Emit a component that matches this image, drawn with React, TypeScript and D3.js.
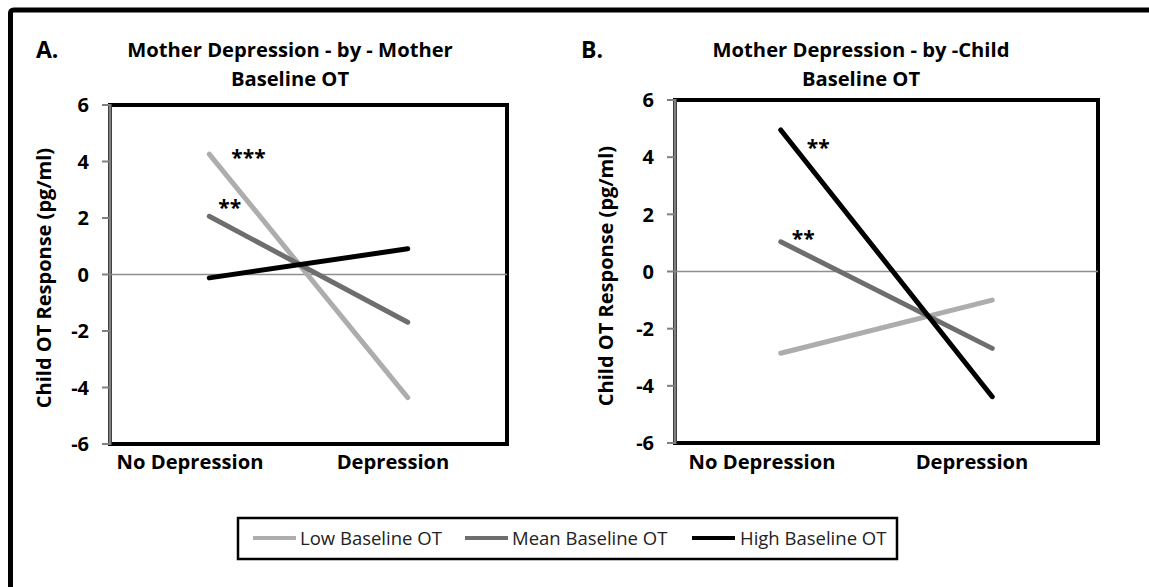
import React from "react";
import * as d3 from "d3";

const categories = ["No Depression", "Depression"];
const seriesNames = ["Low Baseline OT", "Mean Baseline OT", "High Baseline OT"];
const seriesColors = ["#adadad", "#6e6e6e", "#000000"];
const panelALow = [4.26, -4.36];
const panelAMean = [2.06, -1.69];
const panelAHigh = [-0.12, 0.91];
const panelBLow = [-2.86, -1.0];
const panelBMean = [1.04, -2.69];
const panelBHigh = [4.95, -4.38];
const yTicks = [6, 4, 2, 0, -2, -4, -6];

type Star = { text: string; series: number; dx: number; dy: number };

const panels = [
  {
    letter: "A.",
    title1: "Mother Depression - by - Mother",
    title2: "Baseline OT",
    left: 110, right: 507, top: 105, bottom: 444,
    letterX: 36, titleCx: 290, yTitleX: 44, yTitleCy: 278,
    series: [panelALow, panelAMean, panelAHigh],
    stars: [
      { text: "***", series: 0, dx: 22, dy: -4 },
      { text: "**", series: 1, dx: 9, dy: -16 },
    ] as Star[],
    catCx: [190, 393],
  },
  {
    letter: "B.",
    title1: "Mother Depression - by -Child",
    title2: "Baseline OT",
    left: 675, right: 1098, top: 100, bottom: 443,
    letterX: 581, titleCx: 861, yTitleX: 606, yTitleCy: 276,
    series: [panelBLow, panelBMean, panelBHigh],
    stars: [
      { text: "**", series: 2, dx: 26, dy: 10 },
      { text: "**", series: 1, dx: 11, dy: -11 },
    ] as Star[],
    catCx: [762, 972],
  },
];

const FONT = "'Open Sans', 'DejaVu Sans', sans-serif";

function Panel({ p }: { p: (typeof panels)[number] }) {
  const x = d3.scaleBand<string>().domain(categories).range([p.left, p.right]);
  const y = d3.scaleLinear().domain([-6, 6]).range([p.bottom, p.top]);
  const cx = (c: string) => (x(c) as number) + x.bandwidth() / 2;
  const line = d3
    .line<number>()
    .x((_, i) => cx(categories[i]))
    .y((d) => y(d));
  return (
    <g>
      <text x={p.letterX} y={58} fontFamily={FONT} fontWeight={700} fontSize={23}>
        {p.letter}
      </text>
      <text x={p.titleCx} y={57} textAnchor="middle" fontFamily={FONT} fontWeight={700} fontSize={20.2}>
        {p.title1}
      </text>
      <text x={p.titleCx} y={86} textAnchor="middle" fontFamily={FONT} fontWeight={700} fontSize={20.2}>
        {p.title2}
      </text>
      <rect x={p.left} y={p.top} width={p.right - p.left} height={p.bottom - p.top}
        fill="none" stroke="#000" strokeWidth={4} />
      <line x1={p.left} x2={p.right} y1={y(0)} y2={y(0)} stroke="#8f8f8f" strokeWidth={1.5} />
      <line x1={p.left} x2={p.left} y1={p.top - 1} y2={p.bottom + 1} stroke="#808080" strokeWidth={3} />
      {yTicks.map((t) => (
        <g key={t}>
          <line x1={p.left - 8} x2={p.left} y1={y(t)} y2={y(t)} stroke="#808080" strokeWidth={2} />
          <text x={p.left - 21} y={y(t)} dy="0.36em" textAnchor="end" fontFamily={FONT}
            fontWeight={700} fontSize={20}>
            {t}
          </text>
        </g>
      ))}
      <text transform={`translate(${p.yTitleX},${p.yTitleCy}) rotate(-90)`}
        dy="0.36em" textAnchor="middle" fontFamily={FONT} fontWeight={700} fontSize={20}>
        Child OT Response (pg/ml)
      </text>
      {categories.map((c, i) => (
        <text key={c} x={p.catCx[i]} y={469} textAnchor="middle" fontFamily={FONT}
          fontWeight={700} fontSize={20.2}>
          {c}
        </text>
      ))}
      {p.series.map((s, i) => (
        <path key={i} d={line(s) as string} fill="none" stroke={seriesColors[i]}
          strokeWidth={5} strokeLinecap="round" />
      ))}
      {p.stars.map((st, i) => (
        <text key={i} x={cx(categories[0]) + st.dx} y={y(p.series[st.series][0]) + st.dy + 15}
          fontFamily={FONT} fontWeight={700} fontSize={21}>
          {st.text}
        </text>
      ))}
    </g>
  );
}

export default function App() {
  const legendItems = [
    { lx: 253, tx: 300 },
    { lx: 465, tx: 512 },
    { lx: 692, tx: 740 },
  ];
  return (
    <svg width={1149} height={587} style={{ position: "absolute", left: 0, top: 0, background: "#fff" }}>
      <rect x={0} y={0} width={1149} height={587} fill="#fff" />
      <rect x={10.5} y={10} width={1300} height={800} fill="none" stroke="#000" strokeWidth={5} rx={3} />
      {panels.map((p) => (
        <Panel key={p.letter} p={p} />
      ))}
      <rect x={238} y={518} width={659} height={41} fill="#fff" stroke="#000" strokeWidth={2.5} />
      {seriesNames.map((n, i) => (
        <g key={n}>
          <line x1={legendItems[i].lx} x2={legendItems[i].lx + 43} y1={538} y2={538}
            stroke={seriesColors[i]} strokeWidth={4} />
          <text x={legendItems[i].tx} y={538} dy="0.36em" fontFamily={FONT} fontSize={18.5}
            fill="#222">
            {n}
          </text>
        </g>
      ))}
    </svg>
  );
}
